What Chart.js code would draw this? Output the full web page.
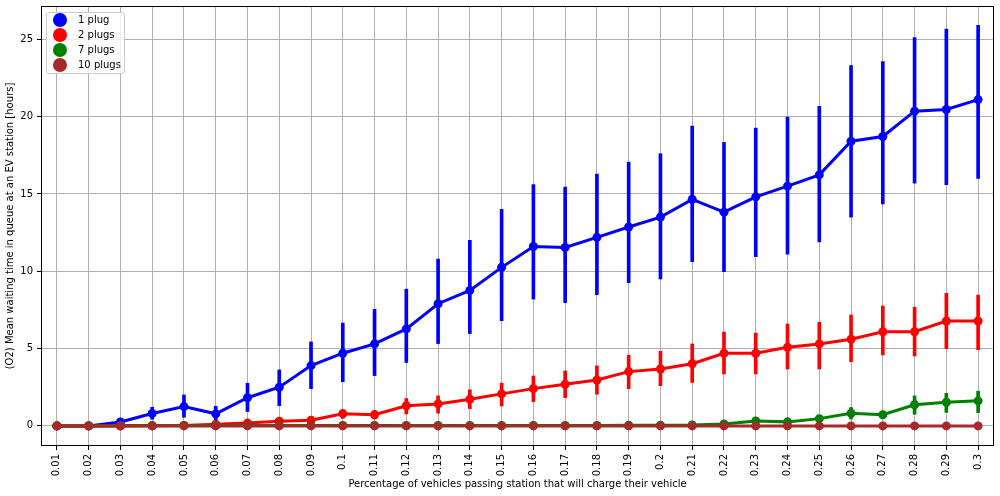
<!DOCTYPE html>
<html><head><meta charset="utf-8">
<script src="https://cdn.jsdelivr.net/npm/chart.js@4.4.1/dist/chart.umd.min.js"></script>
<style>
html,body{margin:0;padding:0;background:#fff;}
#wrap{position:relative;width:1000px;height:496px;}
#c{position:absolute;left:0;top:0;}
#legend{position:absolute;left:46px;top:12px;width:77px;height:60px;border:1px solid #cccccc;border-radius:3px;background:rgba(255,255,255,0.8);font-family:'DejaVu Sans';font-size:10px;color:#000;}
.item{position:absolute;left:0;width:77px;height:14px;line-height:14px;white-space:nowrap;}
.dot{position:absolute;left:6px;top:0;width:14px;height:14px;border-radius:50%;}
.lbl{position:absolute;left:31px;top:0;}
</style></head>
<body><div id="wrap"><canvas id="c" width="1000" height="496"></canvas><div id="legend"></div></div>
<script>
const categories = ['0.01','0.02','0.03','0.04','0.05','0.06','0.07','0.08','0.09','0.1','0.11','0.12','0.13','0.14','0.15','0.16','0.17','0.18','0.19','0.2','0.21','0.22','0.23','0.24','0.25','0.26','0.27','0.28','0.29','0.3'];
const seriesNames = ['1 plug','2 plugs','7 plugs','10 plugs'];
const seriesColors = ['#0000ff','#ff0000','#008000','#a52a2a'];
const yTicks = [0,5,10,15,20,25];

const plug1 = [0, 0, 0.25, 0.8, 1.25, 0.78, 1.82, 2.5, 3.9, 4.7, 5.3, 6.27, 7.9, 8.76, 10.25, 11.6, 11.54, 12.19, 12.86, 13.5, 14.65, 13.82, 14.81, 15.5, 16.23, 18.41, 18.71, 20.35, 20.46, 21.1];
const plug1Lo = [0, 0, 0.15, 0.43, 0.56, 0.3, 0.93, 1.31, 2.41, 2.86, 3.25, 4.1, 5.32, 5.97, 6.8, 8.2, 7.97, 8.48, 9.26, 9.5, 10.62, 9.97, 10.94, 11.1, 11.9, 13.5, 14.36, 15.7, 15.6, 16.0];
const plug1Hi = [0, 0, 0.35, 1.2, 2.0, 1.27, 2.76, 3.62, 5.43, 6.65, 7.54, 8.84, 10.79, 12.0, 14.0, 15.6, 15.44, 16.28, 17.05, 17.6, 19.38, 18.33, 19.25, 19.96, 20.67, 23.3, 23.56, 25.1, 25.65, 25.9];

const plug2 = [0, 0, 0, 0.01, 0.03, 0.1, 0.18, 0.3, 0.37, 0.79, 0.72, 1.3, 1.42, 1.72, 2.07, 2.41, 2.69, 2.97, 3.51, 3.68, 4.02, 4.7, 4.7, 5.08, 5.3, 5.6, 6.09, 6.09, 6.78, 6.78];
const plug2Lo = [0, 0, 0, 0, 0, 0.05, 0.1, 0.18, 0.25, 0.49, 0.45, 0.77, 0.82, 1.12, 1.29, 1.57, 1.83, 2.05, 2.41, 2.6, 2.81, 3.36, 3.36, 3.68, 3.68, 4.15, 4.59, 4.52, 4.99, 4.93];
const plug2Hi = [0, 0, 0, 0.02, 0.06, 0.16, 0.28, 0.44, 0.52, 1.05, 1.0, 1.77, 1.94, 2.33, 2.76, 3.23, 3.55, 3.88, 4.57, 4.82, 5.3, 6.07, 6.0, 6.59, 6.7, 7.17, 7.75, 7.67, 8.57, 8.46];

const plug7 = [0, 0, 0.02, 0.02, 0.03, 0.03, 0.03, 0.03, 0.03, 0.03, 0.03, 0.03, 0.03, 0.03, 0.03, 0.03, 0.03, 0.03, 0.04, 0.04, 0.06, 0.13, 0.32, 0.26, 0.47, 0.82, 0.72, 1.37, 1.53, 1.62];
const plug7Lo = [0, 0, 0.01, 0.01, 0.02, 0.02, 0.02, 0.02, 0.02, 0.02, 0.02, 0.02, 0.02, 0.02, 0.02, 0.02, 0.02, 0.02, 0.02, 0.02, 0.03, 0.07, 0.2, 0.16, 0.3, 0.44, 0.58, 0.75, 0.87, 0.86];
const plug7Hi = [0, 0, 0.03, 0.03, 0.04, 0.04, 0.04, 0.04, 0.04, 0.04, 0.04, 0.04, 0.04, 0.04, 0.04, 0.04, 0.04, 0.04, 0.06, 0.06, 0.09, 0.2, 0.45, 0.36, 0.64, 1.19, 0.88, 1.94, 2.11, 2.24];

const plug10 = [0, 0, 0, 0, 0, 0, 0, 0, 0, 0, 0, 0, 0, 0, 0, 0, 0, 0, 0, 0, 0, 0, 0, 0, 0, 0, 0, 0, 0, 0];
const plug10Lo = [0, 0, 0, 0, 0, 0, 0, 0, 0, 0, 0, 0, 0, 0, 0, 0, 0, 0, 0, 0, 0, 0, 0, 0, 0, 0, 0, 0, 0, 0];
const plug10Hi = [0, 0, 0, 0, 0, 0, 0, 0, 0, 0, 0, 0, 0, 0, 0, 0, 0, 0, 0, 0, 0, 0, 0, 0, 0, 0, 0, 0, 0, 0];

const means = [plug1, plug2, plug7, plug10];
const lows = [plug1Lo, plug2Lo, plug7Lo, plug10Lo];
const highs = [plug1Hi, plug2Hi, plug7Hi, plug10Hi];

Chart.defaults.font.family = "'DejaVu Sans', sans-serif";
Chart.defaults.font.size = 10;
Chart.defaults.color = '#000';

const datasets = [];
seriesNames.forEach((name, s) => {
  const col = seriesColors[s];
  const base = (3 - s) * 2 + 1; // lower order drawn on top; 10 plugs on top
  datasets.push({
    type: 'line', label: name, data: means[s],
    borderColor: col, backgroundColor: col,
    borderWidth: 3, tension: 0,
    pointRadius: 4.5, pointHoverRadius: 4.5, pointBorderWidth: 0,
    pointBackgroundColor: col, order: base
  });
  datasets.push({
    type: 'bar', label: name + ' err',
    data: categories.map((_, i) => [lows[s][i], highs[s][i]]),
    backgroundColor: col, borderWidth: 0,
    barThickness: 3, grouped: false, order: base + 1
  });
});

const frame = {
  id: 'frame',
  afterDatasetsDraw(chart) {
    const a = chart.chartArea, ctx = chart.ctx;
    ctx.save();
    ctx.strokeStyle = '#000';
    ctx.lineWidth = 1;
    ctx.strokeRect(Math.round(a.left) + 0.5, Math.round(a.top) + 0.5, Math.round(a.right - a.left) - 1, Math.round(a.bottom - a.top) - 1);
    ctx.restore();
  }
};

new Chart(document.getElementById('c'), {
  type: 'line',
  data: { labels: categories, datasets },
  options: {
    responsive: false, animation: false, devicePixelRatio: 1,
    layout: { padding: { top: 6, right: 6, left: 0, bottom: 0 } },
    plugins: { legend: { display: false }, tooltip: { enabled: false } },
    scales: {
      x: {
        type: 'category', offset: true,
        grid: { offset: false, color: '#b0b0b0', lineWidth: 1, tickColor: '#000', tickLength: 4 },
        border: { display: false },
        ticks: { minRotation: 90, maxRotation: 90, autoSkip: false, padding: 4, color: '#000' },
        title: { display: true, text: 'Percentage of vehicles passing station that will charge their vehicle', padding: { top: 0, bottom: 6 }, color: '#000' },
        afterFit(scale) { scale.height = 50; scale.paddingLeft = 0; scale.paddingRight = 0; }
      },
      y: {
        type: 'linear', min: -1.3, max: 27.15, beginAtZero: false,
        grid: { color: '#b0b0b0', lineWidth: 1, tickColor: '#000', tickLength: 4 },
        border: { display: false },
        ticks: { padding: 4, color: '#000', includeBounds: false },
        afterBuildTicks(scale) { scale.ticks = yTicks.map(v => ({ value: v })); },
        title: { display: true, text: '(O2) Mean waiting time in queue at an EV station [hours]', padding: { top: 4, bottom: 0 }, color: '#000' },
        afterFit(scale) { scale.width = 41; scale.paddingTop = 0; scale.paddingBottom = 0; }
      }
    }
  },
  plugins: [frame]
});

const lg = document.getElementById('legend');
seriesNames.forEach((name, s) => {
  const it = document.createElement('div');
  it.className = 'item';
  it.style.top = (s * 15) + 'px';
  const d = document.createElement('span');
  d.className = 'dot';
  d.style.background = seriesColors[s];
  const t = document.createElement('span');
  t.className = 'lbl';
  t.textContent = name;
  it.appendChild(d); it.appendChild(t);
  lg.appendChild(it);
});
</script>
</body></html>
